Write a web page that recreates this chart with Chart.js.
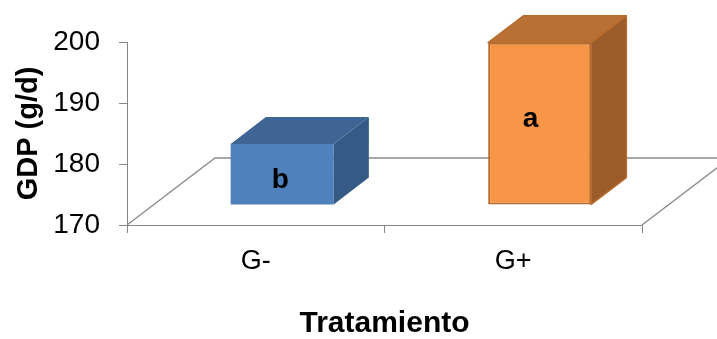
<!DOCTYPE html>
<html>
<head>
<meta charset="utf-8">
<script src="https://cdn.jsdelivr.net/npm/chart.js@4.4.1/dist/chart.umd.min.js"></script>
<style>
  html, body { margin: 0; padding: 0; background: #ffffff; }
  #wrap { width: 717px; height: 339px; }
</style>
</head>
<body>
<div id="wrap"><canvas id="chart" width="717" height="339"></canvas></div>
<script>
// Daily weight gain (GDP) per treatment
const categories = ['G-', 'G+'];
const gdpValues = [180.0, 196.6];
const groupLetters = ['b', 'a'];
const yMin = 170;
const yMax = 200;
const yStep = 10;

const FONT = "'Liberation Sans', Arial, Helvetica, sans-serif";
const AXIS_GRAY = '#868686';

// Face colours for each column: front, top, side, edge
const faceFront = ['#4F81BD', '#F79646'];
const faceTop = ['#3E6594', '#B97034'];
const faceSide = ['#355A85', '#9B5C2A'];
const faceEdge = ['rgba(0,0,0,0)', '#B86C2E'];
const edgeWidth = [0, 2];

// Oblique projection of the floor: the depth vector of the whole floor,
// where the column front sits along it, and how deep a column is.
const floorDepth = { x: 88, y: -67 };
const frontAt = 0.3;
const columnDepth = 0.4;

const box3d = {
  id: 'box3d',
  beforeDatasetsDraw(chart) {
    const { ctx, chartArea: a } = chart;
    const dx = floorDepth.x, dy = floorDepth.y;
    // floor outline behind the columns
    ctx.save();
    ctx.strokeStyle = '#8C8C8C';
    ctx.lineWidth = 1.4;
    ctx.beginPath();
    ctx.moveTo(a.left, a.bottom);
    ctx.lineTo(a.left + dx, a.bottom + dy);
    ctx.lineTo(a.right + dx, a.bottom + dy);
    ctx.lineTo(a.right, a.bottom);
    ctx.stroke();
    ctx.restore();
    // the front faces are drawn by Chart.js, pushed back into the floor
    ctx.save();
    ctx.translate(dx * frontAt, dy * frontAt);
  },
  afterDatasetsDraw(chart) {
    const { ctx } = chart;
    ctx.restore();
    const sx = floorDepth.x * frontAt, sy = floorDepth.y * frontAt;
    const bx = floorDepth.x * columnDepth, by = floorDepth.y * columnDepth;
    const meta = chart.getDatasetMeta(0);
    meta.data.forEach((bar, i) => {
      const p = bar.getProps(['x', 'y', 'base', 'width'], true);
      const left = p.x - p.width / 2 + sx;
      const right = p.x + p.width / 2 + sx;
      const top = p.y + sy;
      const bottom = p.base + sy;
      const h = bottom - top;
      ctx.save();
      ctx.lineJoin = 'round';
      // top face
      ctx.beginPath();
      ctx.moveTo(left, top);
      ctx.lineTo(left + bx, top + by);
      ctx.lineTo(right + bx, top + by);
      ctx.lineTo(right, top);
      ctx.closePath();
      ctx.fillStyle = faceTop[i];
      ctx.fill();
      if (edgeWidth[i]) { ctx.strokeStyle = faceEdge[i]; ctx.lineWidth = 1.5; ctx.stroke(); }
      // side face
      ctx.beginPath();
      ctx.moveTo(right, top);
      ctx.lineTo(right + bx, top + by);
      ctx.lineTo(right + bx, bottom + by);
      ctx.lineTo(right, bottom);
      ctx.closePath();
      ctx.fillStyle = faceSide[i];
      ctx.fill();
      if (edgeWidth[i]) { ctx.strokeStyle = faceEdge[i]; ctx.lineWidth = 1.5; ctx.stroke(); }
      // group letter on the front face, nudged like the perspective label placement
      ctx.fillStyle = '#000000';
      ctx.font = 'bold 28px ' + FONT;
      ctx.textAlign = 'center';
      ctx.textBaseline = 'middle';
      const lx = (left + right) / 2 + 2.3 - 0.07 * h;
      const ly = (top + bottom) / 2 + 12 - 0.1 * h;
      ctx.fillText(groupLetters[i], lx, ly);
      ctx.restore();
    });
  }
};

new Chart(document.getElementById('chart'), {
  type: 'bar',
  data: {
    labels: categories,
    datasets: [{
      data: gdpValues,
      base: yMin,
      backgroundColor: faceFront,
      borderColor: faceEdge,
      borderWidth: edgeWidth,
      borderSkipped: false,
      barPercentage: 0.4,
      categoryPercentage: 1,
      clip: false
    }]
  },
  options: {
    responsive: false,
    maintainAspectRatio: false,
    animation: false,
    devicePixelRatio: 1,
    layout: { padding: { left: 0, right: 75, top: 42, bottom: 0 } },
    plugins: {
      legend: { display: false },
      tooltip: { enabled: false }
    },
    scales: {
      x: {
        grid: { offset: true, drawOnChartArea: false, tickLength: 8, color: AXIS_GRAY, lineWidth: 1 },
        border: { color: AXIS_GRAY, width: 1 },
        ticks: { color: '#000000', font: { family: FONT, size: 27 }, padding: 12 },
        title: {
          display: true,
          text: 'Tratamiento',
          color: '#000000',
          font: { family: FONT, size: 30, weight: 'bold', lineHeight: 1 },
          padding: { top: 0, bottom: 0 }
        },
        afterFit(scale) { scale.height = 114; }
      },
      y: {
        min: yMin,
        max: yMax,
        grid: { drawOnChartArea: false, tickLength: 8, color: AXIS_GRAY, lineWidth: 1 },
        border: { color: AXIS_GRAY, width: 1 },
        ticks: { stepSize: yStep, color: '#000000', font: { family: FONT, size: 28 }, padding: 19 },
        title: {
          display: true,
          text: 'GDP (g/d)',
          color: '#000000',
          font: { family: FONT, size: 29, weight: 'bold', lineHeight: 1 },
          padding: { top: 14, bottom: 0 }
        },
        afterFit(scale) { scale.width = 127; }
      }
    }
  },
  plugins: [box3d]
});
</script>
</body>
</html>
